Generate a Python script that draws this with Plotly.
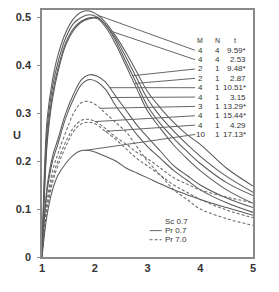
import numpy as np
import plotly.graph_objects as go

# ---------------- data ----------------
R = [1.0, 1.05, 1.1, 1.2, 1.3, 1.45, 1.6, 1.75, 1.9, 2.05, 2.2, 2.4, 2.6, 2.8, 3.0, 3.25, 3.5, 3.75, 4.0, 4.5, 5.0]

U1 = [0, 0.19, 0.29, 0.37, 0.42, 0.468, 0.497, 0.511, 0.513, 0.505, 0.49, 0.46, 0.425, 0.385, 0.345, 0.31, 0.28, 0.255, 0.235, 0.185, 0.148]
U2 = [0, 0.17, 0.27, 0.355, 0.405, 0.457, 0.487, 0.50, 0.505, 0.50, 0.485, 0.455, 0.415, 0.372, 0.33, 0.292, 0.262, 0.235, 0.21, 0.168, 0.135]
U3 = [0, 0.15, 0.25, 0.34, 0.392, 0.447, 0.477, 0.492, 0.499, 0.499, 0.485, 0.45, 0.405, 0.36, 0.315, 0.277, 0.247, 0.22, 0.195, 0.155, 0.128]
U4 = [0, 0.14, 0.24, 0.33, 0.385, 0.442, 0.473, 0.49, 0.497, 0.497, 0.48, 0.443, 0.397, 0.35, 0.305, 0.267, 0.233, 0.205, 0.18, 0.14, 0.112]
U5 = [0, 0.09, 0.15, 0.21, 0.245, 0.30, 0.34, 0.37, 0.38, 0.377, 0.365, 0.335, 0.305, 0.275, 0.25, 0.22, 0.19, 0.17, 0.15, 0.123, 0.103]
U6 = [0, 0.085, 0.14, 0.20, 0.235, 0.29, 0.33, 0.36, 0.37, 0.365, 0.35, 0.315, 0.285, 0.255, 0.23, 0.205, 0.18, 0.16, 0.14, 0.113, 0.093]
U7 = [0, 0.07, 0.12, 0.18, 0.215, 0.26, 0.30, 0.322, 0.324, 0.315, 0.30, 0.28, 0.26, 0.23, 0.20, 0.17, 0.14, 0.12, 0.10, 0.08, 0.066]
U8 = [0, 0.065, 0.11, 0.165, 0.20, 0.24, 0.27, 0.285, 0.287, 0.28, 0.268, 0.25, 0.235, 0.218, 0.205, 0.185, 0.165, 0.152, 0.14, 0.125, 0.113]
U9 = [0, 0.06, 0.10, 0.155, 0.19, 0.23, 0.262, 0.278, 0.281, 0.275, 0.262, 0.245, 0.225, 0.205, 0.19, 0.17, 0.15, 0.135, 0.12, 0.098, 0.082]
U10 = [0, 0.05, 0.09, 0.14, 0.17, 0.195, 0.213, 0.222, 0.222, 0.217, 0.21, 0.20, 0.185, 0.175, 0.165, 0.152, 0.14, 0.13, 0.12, 0.103, 0.087]

curves = [U1, U2, U3, U4, U5, U6, U7, U8, U9, U10]
prandtl = ["0.7", "0.7", "0.7", "0.7", "0.7", "0.7", "7.0", "7.0", "7.0", "0.7"]

M_vals = ["4", "4", "2", "2", "4", "4", "3", "4", "4", "10"]
N_vals = ["4", "4", "1", "1", "1", "1", "1", "1", "1", "1"]
t_vals = ["9.59*", "2.53", "9.48*", "2.87", "10.51*", "3.15", "13.29*", "15.44*", "4.29", "17.13*"]
attach_R = [2.06, 2.29, 2.72, 2.75, 2.28, 2.3, 2.1, 2.0, 2.2, 1.8]

xticks = [1, 2, 3, 4, 5]
yticks = [0, 0.1, 0.2, 0.3, 0.4, 0.5]
ytick_text = ["0", "0.1", "0.2", "0.3", "0.4", "0.5"]

# ---------------- figure ----------------
FONT = "Liberation Sans, Arial, sans-serif"
TXT = "#333333"
fig = go.Figure()

for U, pr in zip(curves, prandtl):
    fig.add_trace(go.Scatter(
        x=R, y=U, mode="lines", line_shape="spline",
        line=dict(color="#5a5a5a" if pr == "0.7" else "#6a6a6a", width=1.05,
                  dash="solid" if pr == "0.7" else "3px,2px"),
        showlegend=False, hoverinfo="skip"))

# label table
row0 = 0.431
step = 0.0195
lab_x_end = 3.9
for i, (U, m, n, t, ra) in enumerate(zip(curves, M_vals, N_vals, t_vals, attach_R)):
    ly = row0 - i * step
    ua = float(np.interp(ra, R, U))
    fig.add_trace(go.Scatter(x=[ra, lab_x_end], y=[ua, ly], mode="lines",
                             line=dict(color="#666666", width=1),
                             showlegend=False, hoverinfo="skip"))
    fig.add_annotation(x=4.0, y=ly, text=m, showarrow=False, xanchor="center",
                       font=dict(size=8, color=TXT, family=FONT))
    fig.add_annotation(x=4.33, y=ly, text=n, showarrow=False, xanchor="center",
                       font=dict(size=8, color=TXT, family=FONT))
    fig.add_annotation(x=4.9, y=ly, text=t, showarrow=False, xanchor="right",
                       font=dict(size=8, color=TXT, family=FONT))

hy = row0 + step
for xx, tx in [(4.0, "M"), (4.33, "N"), (4.66, "t")]:
    fig.add_annotation(x=xx, y=hy, text=tx, showarrow=False, xanchor="center",
                       font=dict(size=7, color=TXT, family=FONT))

# legend block
for yy, tx in [(0.074, "Sc 0.7"), (0.055, "Pr 0.7"), (0.036, "Pr 7.0")]:
    fig.add_annotation(x=3.29, y=yy, text=tx, showarrow=False, xanchor="left",
                       font=dict(size=8, color=TXT, family=FONT))
fig.add_shape(type="line", x0=3.04, x1=3.27, y0=0.055, y1=0.055,
              line=dict(color="#666", width=1))
fig.add_shape(type="line", x0=3.04, x1=3.27, y0=0.036, y1=0.036,
              line=dict(color="#666", width=1, dash="3px,2px"))

# axis titles
fig.add_annotation(x=-0.118, xref="paper", y=0.255, yref="y", text="<b>U</b>",
                   showarrow=False, xanchor="center",
                   font=dict(size=11, color=TXT, family=FONT))
fig.add_annotation(x=2.88, y=-0.028, yref="y", text="<b>R</b>", showarrow=False,
                   xanchor="center", font=dict(size=11, color=TXT, family=FONT))

fig.update_xaxes(range=[1, 5], tickvals=xticks, ticktext=["<b>%d</b>" % v for v in xticks],
                 showline=True, linecolor="#8a8a8a", linewidth=1.5, mirror=True,
                 showgrid=False, zeroline=False, ticks="",
                 tickfont=dict(size=11, color=TXT, family=FONT))
fig.update_yaxes(range=[0, 0.515], tickvals=yticks, ticktext=["<b>%s</b>" % s for s in ytick_text],
                 showline=True, linecolor="#8a8a8a", linewidth=1.5, mirror=True,
                 showgrid=False, zeroline=False, ticks="outside", ticklen=3, tickcolor="#8a8a8a",
                 ticklabelstandoff=4,
                 tickfont=dict(size=11, color=TXT, family=FONT))

# page body has an 8px margin, so the figure is shrunk and shifted accordingly
fig.update_layout(width=271, height=284, margin=dict(l=34, r=26, t=0, b=35),
                  plot_bgcolor="white", paper_bgcolor="white", showlegend=False)

fig.write_html("out.html")
